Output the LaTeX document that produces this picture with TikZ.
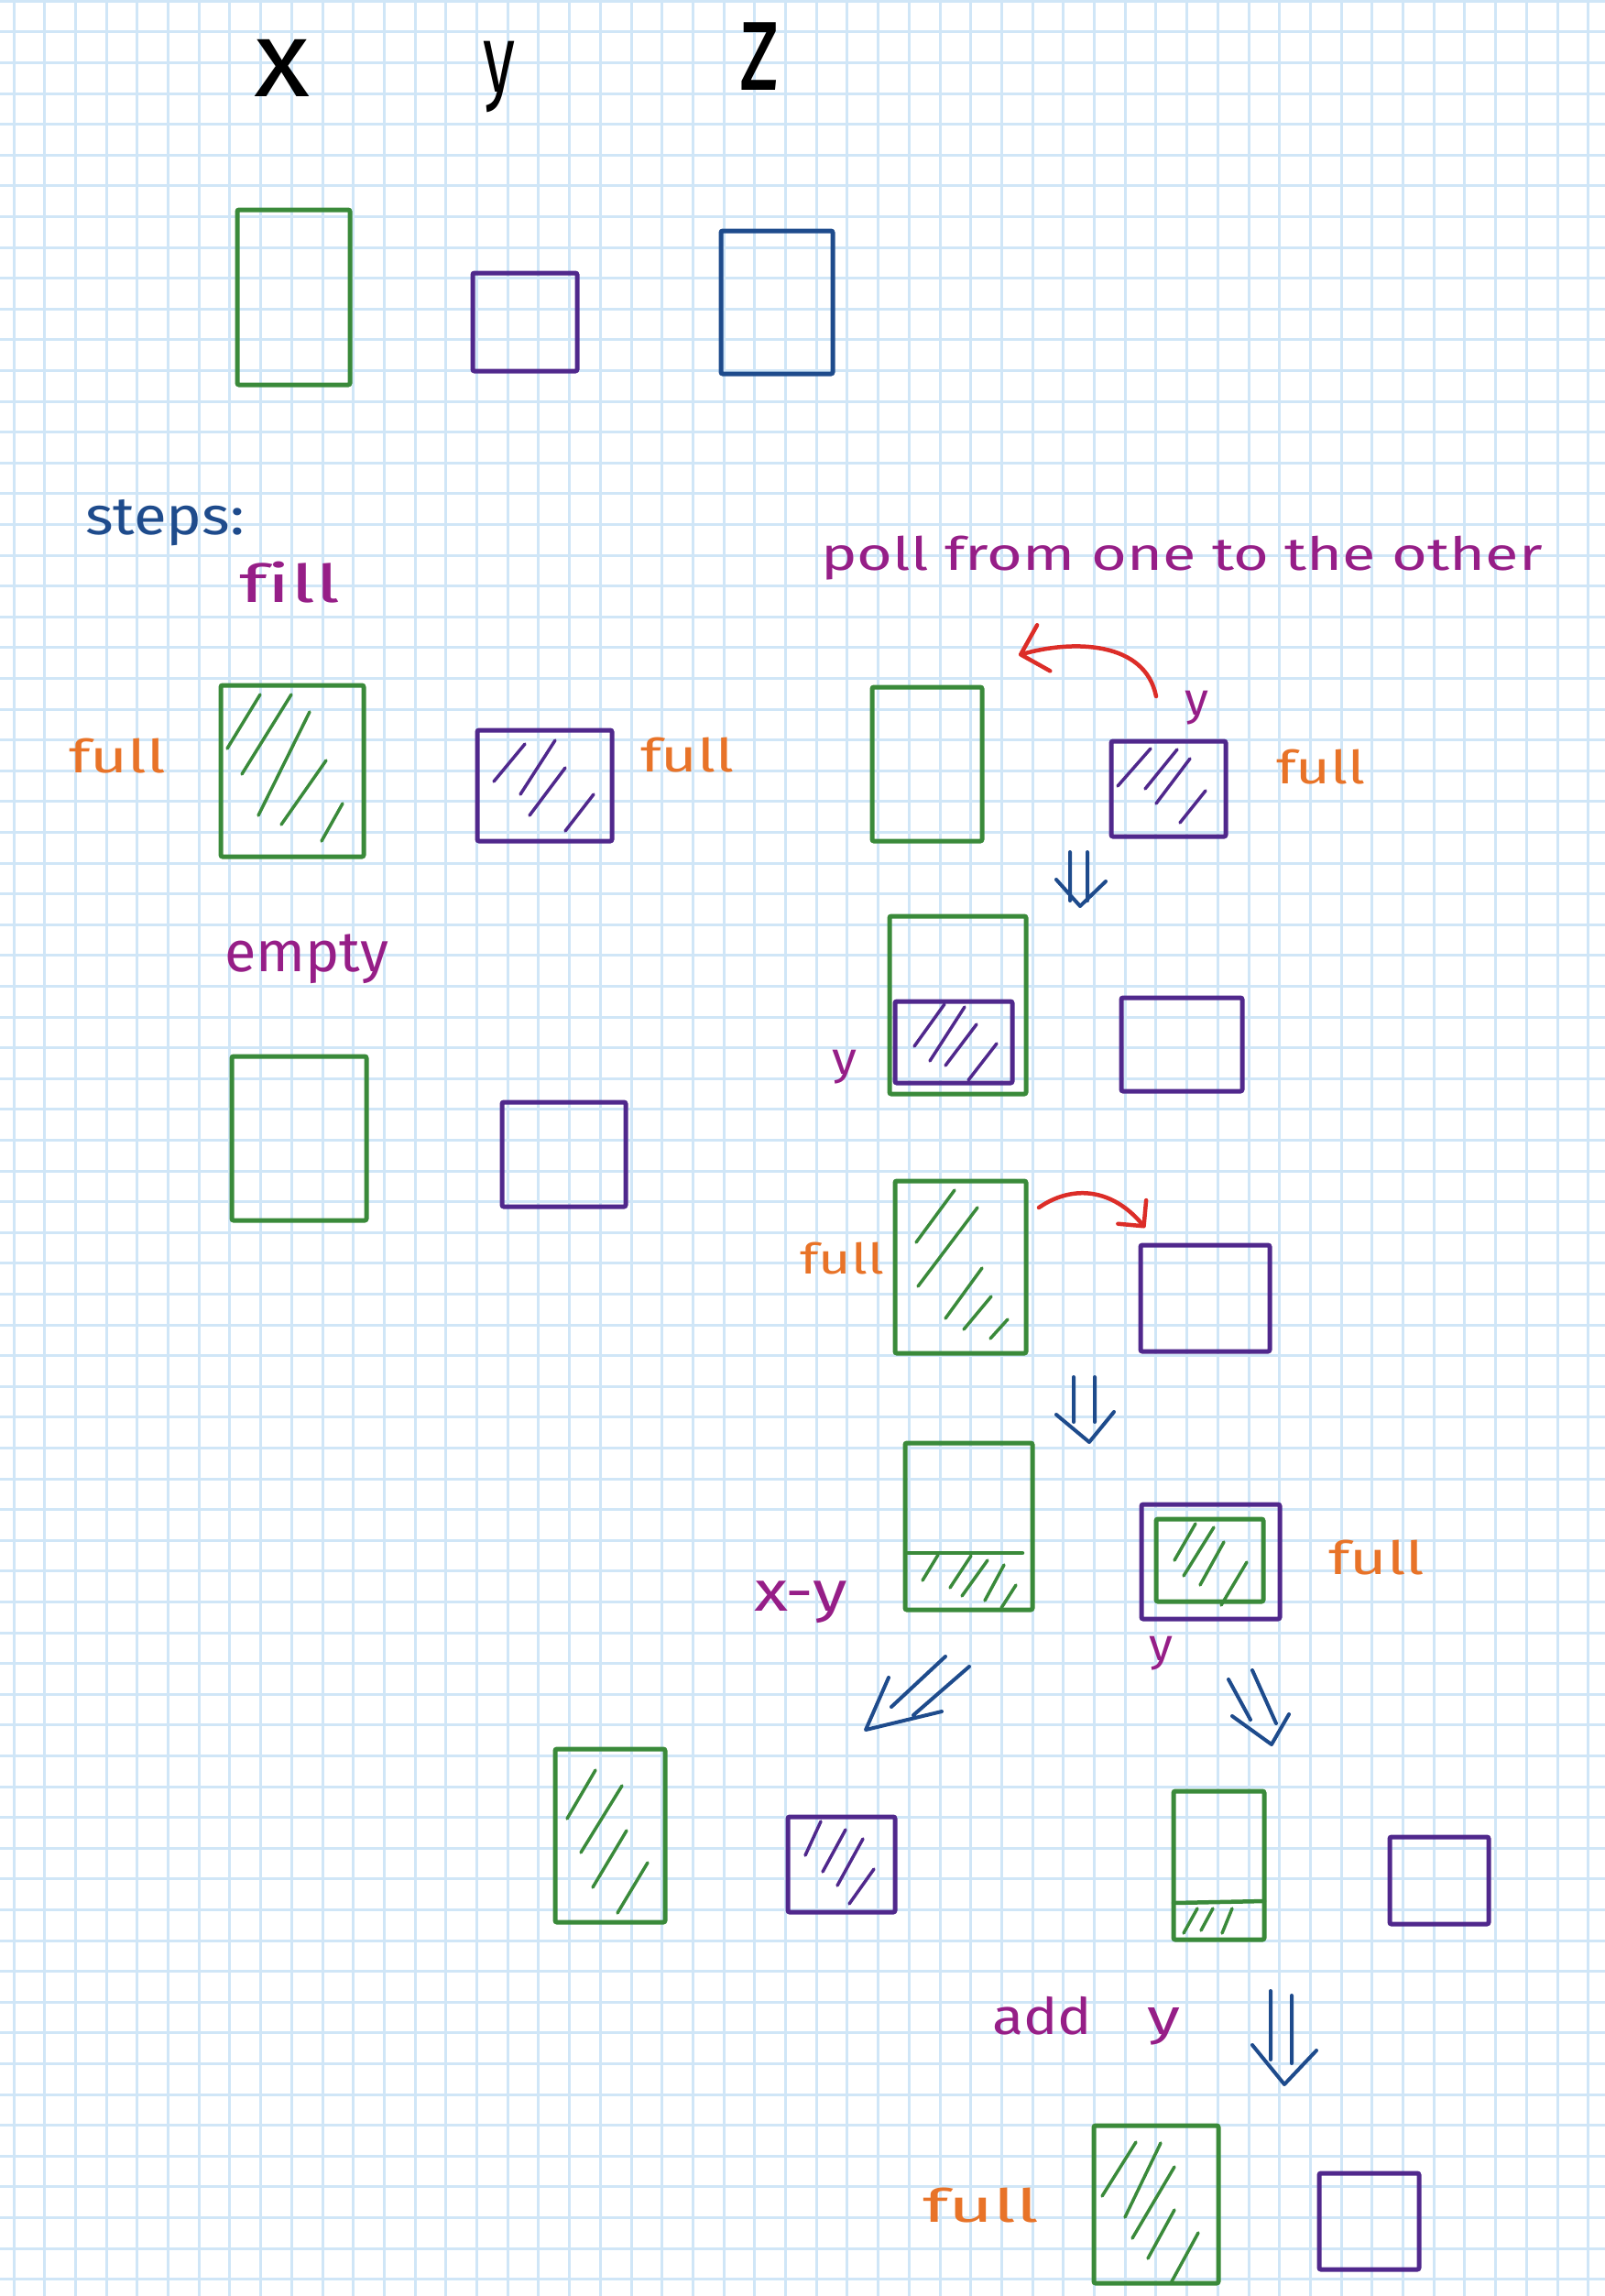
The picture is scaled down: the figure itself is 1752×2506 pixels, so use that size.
\documentclass[tikz,border=0pt]{standalone}
\usepackage{fontspec}
\usepackage{graphicx}
\setmainfont{Fira Sans}[Ligatures=NoCommon]
\usetikzlibrary{arrows.meta}
\definecolor{gridc}{RGB}{208,230,247}
\definecolor{cgreen}{RGB}{58,138,58}
\definecolor{cpurple}{RGB}{80,40,140}
\definecolor{cblue}{RGB}{30,75,140}
\definecolor{cmag}{RGB}{150,30,135}
\definecolor{corange}{RGB}{232,115,40}
\definecolor{cred}{RGB}{220,45,40}
\newcommand\hw[3]{\resizebox{#1}{\height}{\fontsize{#2}{#2}\selectfont #3}}
\begin{document}
\begin{tikzpicture}[x=1pt,y=-1pt,
  lbl/.style={anchor=base west, inner sep=0pt, outer sep=0pt},
  gbox/.style 2 args={draw=cgreen, line width=5pt, minimum width=#1pt, minimum height=#2pt, inner sep=0pt, outer sep=0pt, rounded corners=2pt},
  pbox/.style 2 args={draw=cpurple, line width=5pt, minimum width=#1pt, minimum height=#2pt, inner sep=0pt, outer sep=0pt, rounded corners=2pt},
  bbox/.style 2 args={draw=cblue, line width=5pt, minimum width=#1pt, minimum height=#2pt, inner sep=0pt, outer sep=0pt, rounded corners=2pt},
  ghatch/.style={draw=cgreen, line width=3.5pt, line cap=round},
  phatch/.style={draw=cpurple, line width=3.5pt, line cap=round},
  dblarr/.style={draw=cblue, line width=4pt, line cap=round, line join=round},
  redarr/.style={draw=cred, line width=4.5pt, line cap=round}
]
\useasboundingbox (0,0) rectangle (1752,2506);
\fill[white] (0,0) rectangle (1752,2506);
% grid
\foreach \i in {0,...,51} \draw[gridc, line width=3pt] ({15+33.7*\i},0) -- ({15+33.7*\i},2506);
\foreach \j in {0,...,74} \draw[gridc, line width=3pt] (0,{1.3+33.6*\j}) -- (1752,{1.3+33.6*\j});

% header letters
\node[lbl, text=black] (hx) at (277,105) {\hw{61pt}{118pt}{x}};
\node[lbl, text=black] (hy) at (527,100) {\hw{35pt}{105pt}{y}};
\node[lbl, text=black] (hz) at (807,98) {\hw{43pt}{140pt}{z}};

% top row boxes
\node[gbox={123}{191}] (g0) at (320.5,324.5) {};
\node[pbox={114}{107}] (p0) at (573,351.5) {};
\node[bbox={122}{156}] (b0) at (848,330) {};

% steps
\node[lbl, text=cblue] (steps) at (93,583) {\hw{174pt}{58pt}{steps:}};
\node[lbl, text=cmag] (fill) at (261,657) {\hw{111pt}{57pt}{fill}};

% fill row
\node[gbox={156}{187}] (g1) at (319,841.5) {};
\draw[ghatch] (248,817)--(284,758) (264,845)--(318,758) (282,890)--(338,777) (307,900)--(356,830) (351,918)--(374,877);
\node[pbox={147}{121}] (p1) at (594.5,857.5) {};
\draw[phatch] (539,853)--(573,812) (568,867)--(606,808) (578,890)--(617,838) (617,907)--(648,867);
\node[lbl, text=corange] (full1) at (75,843) {\hw{106pt}{50pt}{full}};
\node[lbl, text=corange] (full2) at (699,842) {\hw{103pt}{50pt}{full}};

% empty row
\node[lbl, text=cmag] (empty) at (245,1060) {\hw{179pt}{62pt}{empty}};
\node[gbox={147}{179}] (g2) at (326.5,1242.5) {};
\node[pbox={135}{114}] (p2) at (615.5,1260) {};

% poll column
\node[lbl, text=cmag] (poll) at (896,622) {\hw{788pt}{50pt}{poll from one to the other}};
\node[gbox={120}{168}] (g3) at (1012,834) {};
\node[pbox={125}{104}] (p3) at (1275.5,861) {};
\draw[phatch] (1220,858)--(1256,817) (1250,861)--(1285,818) (1262,877)--(1299,828) (1288,898)--(1316,863);
\node[lbl, text=cmag] (ya) at (1293,780) {\hw{26pt}{50pt}{y}};
\node[lbl, text=corange] (full3) at (1393,855) {\hw{98pt}{50pt}{full}};
\coordinate (r1a) at (1262,760);
\coordinate (r1b) at (1112,715);
\draw[redarr, -{Straight Barb[length=26pt,width=52pt,round]}] (r1a) .. controls (1250,700) and (1172,698) .. (r1b);

% first double arrow
\coordinate (d1b) at (1179,989);
\draw[dblarr] (1168,930)--(1168,983) (1187,930)--(1187,983) (1153,960)--(d1b)--(1207,962);

% row 2
\node[gbox={149}{194}] (g4) at (1045.5,1097) {};
\node[pbox={128}{89}] (p4) at (1041,1137.5) {};
\draw[phatch] (998,1142)--(1031,1096) (1015,1158)--(1053,1099) (1032,1163)--(1066,1118) (1057,1179)--(1088,1139);
\node[lbl, text=cmag] (yb) at (908,1172) {\hw{27pt}{50pt}{y}};
\node[pbox={132}{102}] (p5) at (1290,1140) {};

% row 3
\node[gbox={143}{188}] (g6) at (1048.5,1383) {};
\draw[ghatch] (1000,1356)--(1042,1299) (1002,1404)--(1067,1318) (1032,1439)--(1072,1384) (1052,1451)--(1082,1415) (1081,1461)--(1100,1440);
\node[lbl, text=corange] (full4) at (873,1390) {\hw{92pt}{46pt}{full}};
\node[pbox={141}{116}] (p6) at (1315.5,1417) {};
\coordinate (r2a) at (1134,1318);
\coordinate (r2b) at (1250,1340);
\draw[redarr, -{Straight Barb[length=20pt,width=40pt,round]}] (r2a) .. controls (1172,1292) and (1215,1298) .. (r2b);

% second double arrow
\coordinate (d2b) at (1189,1574);
\draw[dblarr] (1172,1503)--(1172,1552) (1195,1503)--(1195,1552) (1153,1544)--(d2b)--(1216,1541);

% row 4
\node[gbox={139}{182}] (g7) at (1057.5,1666) {};
\draw[draw=cgreen, line width=4.5pt, line cap=round] (991,1695)--(1116,1695);
\draw[ghatch] (1007,1725)--(1024,1697) (1037,1733)--(1060,1698) (1050,1742)--(1078,1703) (1075,1747)--(1096,1708) (1093,1755)--(1109,1730);
\node[lbl, text=cmag] (xy) at (823,1758) {\hw{102pt}{62pt}{x-y}};
\node[pbox={151}{125}] (p8) at (1321.5,1704.5) {};
\node[gbox={117}{90}] (g8) at (1320.5,1703) {};
\draw[ghatch] (1282,1703)--(1305,1663) (1292,1720)--(1325,1667) (1310,1730)--(1336,1683) (1333,1752)--(1361,1705);
\node[lbl, text=corange] (full5) at (1450,1718) {\hw{105pt}{50pt}{full}};
\node[lbl, text=cmag] (yc) at (1254,1812) {\hw{26pt}{50pt}{y}};

% diagonal arrows
\coordinate (d3b) at (945,1888);
\draw[dblarr] (1032,1808)--(973,1863) (1058,1819)--(997,1872) (970,1831)--(d3b)--(1028,1868);
\coordinate (d4b) at (1388,1904);
\draw[dblarr] (1341,1833)--(1365,1877) (1367,1823)--(1393,1881) (1345,1873)--(d4b)--(1407,1871);

% row 5
\node[gbox={120}{189}] (g9) at (666,2003.5) {};
\draw[ghatch] (619,1985)--(650,1932) (634,2022)--(679,1949) (647,2060)--(684,1998) (674,2088)--(707,2033);
\node[pbox={117}{104}] (p9) at (918.5,2035) {};
\draw[phatch] (879,2025)--(896,1988) (898,2043)--(923,1997) (914,2058)--(942,2007) (927,2078)--(954,2040);
\node[gbox={99}{162}] (g10) at (1330.5,2036) {};
\draw[draw=cgreen, line width=4.5pt, line cap=round] (1281,2077)--(1380,2075);
\draw[ghatch] (1292,2110)--(1307,2083) (1311,2107)--(1324,2083) (1334,2110)--(1345,2083);
\node[pbox={108}{95}] (p10) at (1571,2052.5) {};

% add y
\node[lbl, text=cmag] (addy) at (1083,2220) {\hw{109pt}{55pt}{add}\hspace{60pt}\hw{36pt}{55pt}{y}};
\coordinate (d5b) at (1402,2275);
\draw[dblarr] (1387,2173)--(1387,2248) (1410,2178)--(1410,2252) (1367,2232)--(d5b)--(1437,2238);

% row 6
\node[gbox={136}{172}] (g11) at (1262,2406) {};
\draw[ghatch] (1203,2397)--(1240,2338) (1228,2420)--(1267,2339) (1236,2443)--(1282,2365) (1253,2465)--(1282,2412) (1278,2492)--(1308,2437);
\node[lbl, text=corange] (full6) at (1007,2425) {\hw{127pt}{50pt}{full}};
\node[pbox={109}{105}] (p11) at (1494.5,2424.5) {};
\end{tikzpicture}
\end{document}
